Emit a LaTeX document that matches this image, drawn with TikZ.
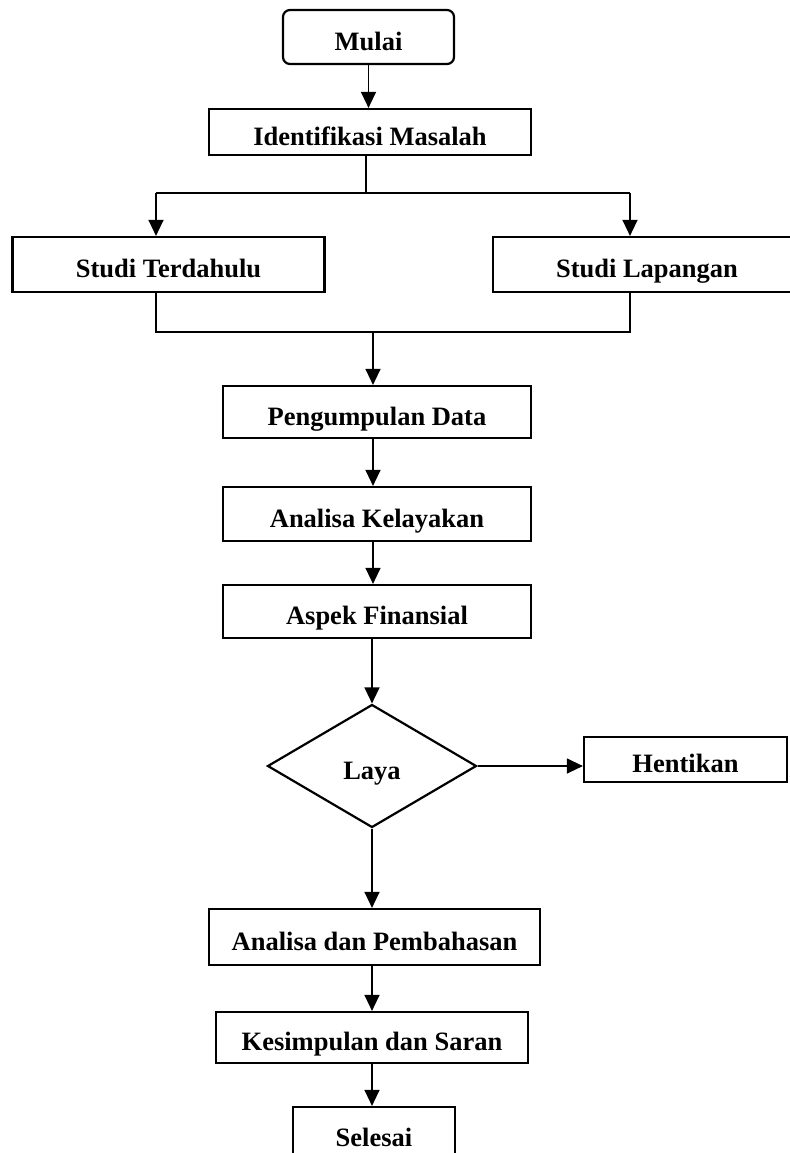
\documentclass[tikz,border=0pt]{standalone}
\usepackage{fontspec}
\setmainfont{Liberation Serif}
\usetikzlibrary{arrows.meta, shapes.geometric, positioning}

\begin{document}
\begin{tikzpicture}[x=0.5pt, y=-0.5pt,
  font=\fontsize{13.25}{15}\selectfont\bfseries,
  every node/.style={text height=13pt, text depth=0pt},
  kotak/.style={draw, line width=1.1pt, inner sep=0pt, minimum width=#1},
  alur/.style={line width=0.65pt, -{Triangle[length=8pt, width=7.5pt]}},
  garis/.style={line width=0.65pt}]
  \useasboundingbox (0,0) rectangle (789,1153);

  \node[kotak=85.5pt, minimum height=27pt, rounded corners=3.5pt] (mulai) at (368.5,37) {Mulai};
  \node[kotak=161pt, minimum height=23pt] (idm) at (370,132) {Identifikasi Masalah};
  \node[kotak=156pt, minimum height=27.5pt] (terdahulu) at (168.5,264.5) {Studi Terdahulu};
  \node[kotak=154pt, minimum height=27.5pt] (lapangan) at (647,264.5) {Studi Lapangan};
  \node[kotak=154pt, minimum height=26pt] (kumpul) at (377,412) {Pengumpulan Data};
  \node[kotak=154pt, minimum height=27pt] (layak) at (377,514) {Analisa Kelayakan};
  \node[kotak=154pt, minimum height=26.5pt] (finansial) at (377,611.5) {Aspek Finansial};
  \node[draw, line width=1.1pt, diamond, inner sep=0pt, minimum width=104.5pt,
        minimum height=61.5pt] (laya) at (372,766) {Laya};
  \node[kotak=101.5pt, minimum height=22.5pt] (henti) at (685.5,759.5) {Hentikan};
  \node[kotak=165.5pt, minimum height=28pt] (bahas) at (374.5,937) {Analisa dan Pembahasan};
  \node[kotak=156pt, minimum height=25.5pt] (simpul) at (372,1037.5) {Kesimpulan dan Saran};
  \node[kotak=81pt, minimum height=26pt] (selesai) at (374,1133) {Selesai};

  % percabangan
  \coordinate (kiri) at (156,193);
  \coordinate (kanan) at (630,193);
  \coordinate (gabung) at (373,332);

  \draw[alur] (mulai.south) -- (mulai.south |- idm.north);
  \draw[garis] (idm.south -| 366,0) -- (366,193);
  \draw[garis] (kiri) -- (kanan);
  \draw[alur] (kiri) -- (kiri |- terdahulu.north);
  \draw[alur] (kanan) -- (kanan |- lapangan.north);
  \draw[garis] (kiri |- terdahulu.south) |- (kanan |- gabung) -- (kanan |- lapangan.south);
  \draw[alur] (gabung) -- (gabung |- kumpul.north);

  \draw[alur] (kumpul.south -| gabung) -- (gabung |- layak.north);
  \draw[alur] (layak.south -| gabung) -- (gabung |- finansial.north);
  \draw[alur] (finansial.south -| laya.north) -- (laya.north);
  \draw[alur] (laya.east) -- (laya.east -| henti.west);
  \draw[alur] (laya.south) -- (laya.south |- bahas.north);
  \draw[alur] (bahas.south -| simpul.south) -- (simpul.north);
  \draw[alur] (simpul.south) -- (simpul.south |- selesai.north);
\end{tikzpicture}
\end{document}
